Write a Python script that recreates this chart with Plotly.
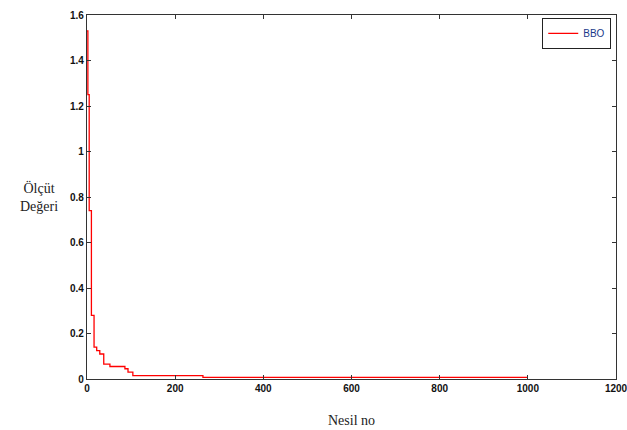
import plotly.graph_objects as go

# Best cost per generation (step-wise)
generations = [0, 2, 5, 10, 16, 22, 29, 38, 52, 86, 93, 104, 263, 1000]
cost = [1.53, 1.25, 0.74, 0.28, 0.14, 0.125, 0.11, 0.065, 0.055, 0.045, 0.03, 0.015, 0.007, 0.007]

x_ticks = [0, 200, 400, 600, 800, 1000, 1200]
y_ticks = [0, 0.2, 0.4, 0.6, 0.8, 1, 1.2, 1.4, 1.6]

fig = go.Figure()
fig.add_trace(go.Scatter(
    x=generations, y=cost, mode="lines", name="BBO",
    line=dict(color="#ff0000", width=1.3, shape="hv"),
))

axis_common = dict(
    showline=True, linecolor="#333333", linewidth=1.2, mirror="ticks",
    ticks="inside", ticklen=4, tickcolor="#333333", tickwidth=1,
    showgrid=False, zeroline=False, automargin=False,
    ticklabeloverflow="allow",
    tickfont=dict(family="Liberation Sans", size=10, color="#111111", weight="bold"),
)

fig.update_xaxes(range=[0, 1200], tickvals=x_ticks, ticktext=[str(v) for v in x_ticks], **axis_common)
fig.update_yaxes(range=[0, 1.6], tickvals=y_ticks, ticktext=[f"{v:g}" for v in y_ticks], **axis_common)

fig.add_annotation(text="Ölçüt<br>Değeri", xref="paper", yref="paper",
                   x=-0.09, y=0.5, xanchor="center", yanchor="middle", showarrow=False,
                   font=dict(family="Liberation Serif", size=14, color="#222222"))
fig.add_annotation(text="Nesil no", xref="paper", yref="paper",
                   x=0.5, y=-0.113, xanchor="center", yanchor="middle", showarrow=False,
                   font=dict(family="Liberation Serif", size=14, color="#222222"))

fig.update_layout(
    width=627, height=430,
    margin=dict(l=87, r=11, t=15, b=51, autoexpand=False),
    plot_bgcolor="white", paper_bgcolor="white",
    showlegend=True,
    legend=dict(x=0.991, y=0.992, xanchor="right", yanchor="top",
                bordercolor="#222222", borderwidth=1, bgcolor="white",
                font=dict(family="Liberation Sans", size=10, color="#1a3a8a"),
                itemwidth=30, tracegroupgap=0),
)

fig.write_html("out.html")
